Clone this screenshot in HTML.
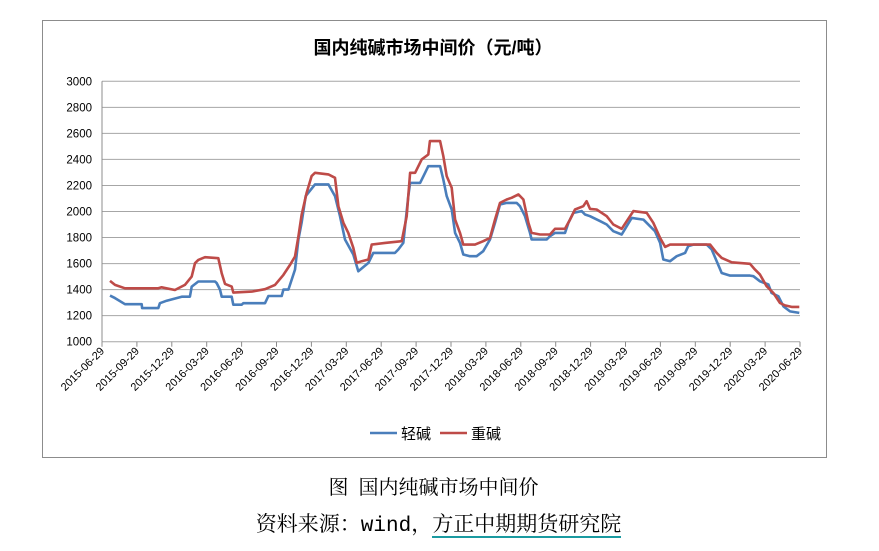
<!DOCTYPE html>
<html><head><meta charset="utf-8">
<style>
body{margin:0;background:#fff;width:879px;height:551px;overflow:hidden;font-family:"Liberation Sans","Noto Sans CJK SC",sans-serif;}
#frame{position:absolute;left:42px;top:20px;width:785px;height:438px;border:1px solid #8c8c8c;box-sizing:border-box;}
.cap{position:absolute;left:0;width:879px;text-align:center;font-family:"Liberation Serif","Noto Serif CJK SC",serif;color:#000;}
</style></head><body>
<div id="frame"></div>
<svg id="chart" width="879" height="551" style="position:absolute;left:0;top:0"></svg>
<div class="cap" style="top:471px;font-size:20px;left:-6px">图&nbsp;&nbsp;国内纯碱市场中间价</div>
<div class="cap" style="top:508px;font-size:21px;left:-1px">资料来源：<span style="font-family:'Liberation Mono',monospace">wind</span>，<span style="border-bottom:2px solid #1a9aa0">方正中期期货研究院</span></div>
<script>
const xTickLabels=["2015-06-29","2015-09-29","2015-12-29","2016-03-29","2016-06-29","2016-09-29","2016-12-29","2017-03-29","2017-06-29","2017-09-29","2017-12-29","2018-03-29","2018-06-29","2018-09-29","2018-12-29","2019-03-29","2019-06-29","2019-09-29","2019-12-29","2020-03-29","2020-06-29"];
const yTicks=[1000,1200,1400,1600,1800,2000,2200,2400,2600,2800,3000];
const lightMonths=[0.69,1.12,1.98,3.41,3.45,4.84,4.98,5.56,6.85,7.56,7.71,8.28,9.71,9.86,10.14,10.29,11.15,11.29,12.01,12.15,14.01,14.30,15.45,15.59,16.02,16.59,16.88,17.16,17.51,18.31,19.46,20.03,20.46,20.89,21.6,22.03,22.9,23.32,25.19,25.47,25.9,26.33,26.48,27.34,27.77,28.05,28.7,29.06,29.34,29.63,30.06,30.35,30.77,31.06,31.63,32.2,32.77,33.35,33.78,34.21,34.79,35.65,35.93,36.36,36.79,36.93,37.65,38.23,38.51,38.94,39.80,40.09,40.52,41.23,41.52,41.95,42.81,43.38,43.95,44.67,45.10,45.53,46.54,47.11,47.54,47.97,48.25,48.83,49.40,50.12,50.40,50.83,51.98,52.41,52.84,53.27,53.99,55.70,55.99,56.56,57.28,57.56,58.14,58.57,59.14,59.94];
const lightValues=[1354,1335,1288,1288,1258,1258,1296,1315,1346,1346,1423,1462,1462,1450,1400,1346,1346,1284,1284,1296,1296,1351,1351,1400,1400,1554,1785,1913,2118,2208,2208,2118,1964,1785,1670,1541,1605,1682,1682,1708,1759,2118,2220,2220,2297,2348,2348,2348,2246,2118,2015,1836,1759,1670,1657,1657,1695,1785,1913,2054,2066,2066,2041,1964,1836,1785,1785,1785,1810,1836,1836,1913,1990,2003,1977,1964,1926,1900,1849,1823,1887,1951,1938,1887,1849,1759,1631,1618,1657,1682,1734,1746,1746,1708,1618,1528,1508,1508,1503,1464,1439,1374,1349,1272,1233,1221];
const heavyMonths=[0.69,1.12,1.98,4.84,5.12,6.27,7.13,7.71,7.99,8.28,8.85,10.0,10.29,10.57,11.15,11.29,12.87,14.01,14.87,15.59,16.16,16.59,16.88,17.16,17.59,18.02,18.31,19.46,20.03,20.32,20.75,21.17,21.6,21.89,22.32,22.9,23.18,24.33,25.76,26.19,26.48,26.91,27.48,28.05,28.19,29.06,29.34,29.63,30.06,30.35,30.77,31.06,32.06,32.77,33.35,33.78,34.21,34.79,35.21,35.79,36.22,36.65,36.93,37.65,38.51,38.94,39.80,40.23,40.66,41.37,41.66,41.95,42.52,43.38,43.95,44.67,45.39,45.68,46.82,47.39,47.97,48.40,48.83,52.27,52.84,53.27,54.13,55.70,56.13,56.56,57.13,57.71,58.28,58.71,59.28,59.94];
const heavyValues=[1467,1436,1410,1410,1418,1397,1436,1500,1603,1628,1649,1641,1526,1444,1423,1377,1385,1403,1436,1513,1590,1654,1808,1974,2143,2272,2297,2285,2259,2041,1913,1836,1721,1605,1618,1631,1746,1759,1772,1964,2297,2297,2400,2438,2541,2541,2426,2272,2182,1938,1836,1746,1746,1772,1797,1938,2066,2092,2105,2131,2092,1913,1836,1823,1823,1867,1867,1938,2015,2041,2079,2020,2015,1964,1900,1867,1964,2003,1990,1913,1797,1728,1746,1746,1682,1644,1610,1598,1554,1515,1426,1374,1297,1279,1267,1267];
const NS="http://www.w3.org/2000/svg";
const svg=document.getElementById('chart');
const X0=102,X1=800,Y0=341.7,Y1=81.3;
function xScale(m){return X0+m*(X1-X0)/60;}
function yScale(v){return Y0-(v-1000)*(Y0-Y1)/2000;}
function mk(tag,attrs){const e=document.createElementNS(NS,tag);for(const k in attrs)e.setAttribute(k,attrs[k]);svg.appendChild(e);return e;}
const title=mk('text',{x:433,y:54,'text-anchor':'middle','font-size':18,'font-weight':'bold',fill:'#000'});
title.textContent='国内纯碱市场中间价（元/吨）';


yTicks.forEach(v=>{
  const g=mk('line',{x1:X0,x2:X1,y1:yScale(v),y2:yScale(v),stroke:'#a6a6a6','stroke-width':1});
  
  
  const t=mk('text',{x:92,y:yScale(v)+4,'text-anchor':'end','font-size':11.5,fill:'#000'});
  t.textContent=v;
  
  
});
const ax=mk('line',{x1:X0,x2:X0,y1:Y1,y2:Y0,stroke:'#8c8c8c'});


xTickLabels.forEach((s,i)=>{
  const x=xScale(i*3);
  const tk=mk('line',{x1:x,x2:x,y1:Y0,y2:Y0+5,stroke:'#8c8c8c'});
  
  
  const t=mk('text',{x:x+3,y:Y0+10,'text-anchor':'end','font-size':11,fill:'#000',transform:`rotate(-45 ${x+3} ${Y0+10})`});
  t.textContent=s;
  
  
});
function series(ms,vs,color,name){
  const p=mk('polyline',{points:ms.map((m,i)=>xScale(m).toFixed(1)+','+yScale(vs[i]).toFixed(1)).join(' '),fill:'none',stroke:color,'stroke-width':2.6,'stroke-linejoin':'round'});
  
  
}
series(lightMonths,lightValues,'#4a7ebb','light-soda-line');
series(heavyMonths,heavyValues,'#be4b48','heavy-soda-line');
[[370,'#4a7ebb','轻碱'],[440,'#be4b48','重碱']].forEach(([x,c,l])=>{
  const ln=mk('line',{x1:x,x2:x+27,y1:433,y2:433,stroke:c,'stroke-width':2.6});
  
  
  const t=mk('text',{x:x+31,y:439,'font-size':15,fill:'#000'});
  t.textContent=l;
  
  
});
</script>
</body></html>
